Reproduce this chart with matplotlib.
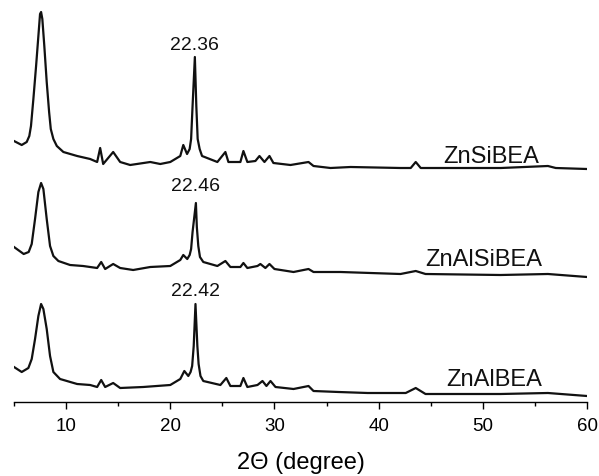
"""XRD patterns of ZnSiBEA, ZnAlSiBEA and ZnAlBEA (stacked)."""
import matplotlib
matplotlib.use("Agg")
import matplotlib.pyplot as plt
from matplotlib.ticker import MultipleLocator

plt.rcParams["font.family"] = ["Liberation Sans", "DejaVu Sans"]

# digitised patterns: 2theta (deg) and intensity (a.u., above each trace's own baseline)
zn_si_2t = [5.0, 5.74, 6.22, 6.47, 6.63, 6.86, 7.12, 7.34, 7.50, 7.60, 7.72, 7.91,
            8.14, 8.37, 8.53, 8.78, 9.11, 9.74, 11.06, 12.31, 12.98, 13.27, 13.56,
            14.52, 15.19, 16.15, 18.08, 19.04, 20.0, 20.96, 21.25, 21.61, 21.86, 22.0,
            22.14, 22.36, 22.50, 22.63, 22.82, 23.05, 24.52, 25.29, 25.58, 26.73, 27.02,
            27.40, 28.17, 28.56, 29.04, 29.52, 29.90, 31.54, 33.27, 33.75, 35.38, 37.31,
            42.1, 43.08, 43.56, 44.04, 51.73, 56.25, 57.0, 60.0]
zn_si_int = [28, 24, 27, 33, 43, 70, 103, 133, 155, 157, 150, 123,
             87, 57, 40, 30, 23, 17, 13, 10, 7, 21, 5,
             17, 7, 4, 7, 5, 7, 13, 24, 15, 20, 30,
             63, 112, 63, 30, 20, 13, 7, 17, 7, 7, 18,
             7, 8, 13, 7, 13, 6, 4, 7, 3, 1, 2,
             1, 1, 7, 1, 1, 3, 1, 0]

zn_alsi_2t = [5.0, 5.93, 6.41, 6.70, 7.02, 7.34, 7.60, 7.82, 8.14, 8.46, 8.78, 9.26,
              10.38, 11.63, 12.98, 13.37, 13.75, 14.52, 15.19, 16.44, 18.08, 20.0, 20.96,
              21.25, 21.63, 21.86, 22.0, 22.14, 22.46, 22.55, 22.69, 22.85, 23.17, 24.52,
              25.29, 25.77, 26.73, 27.02, 27.40, 28.37, 28.65, 29.13, 29.52, 30.0, 31.83,
              33.27, 33.75, 36.35, 42.1, 43.56, 44.5, 51.7, 56.25, 60.0]
zn_alsi_int = [30, 23, 25, 33, 58, 85, 94, 88, 58, 31, 21, 16,
               12, 11, 9, 15, 8, 13, 9, 7, 10, 11, 17,
               22, 18, 22, 28, 45, 74, 50, 31, 20, 15, 11,
               16, 10, 10, 14, 9, 11, 13, 9, 13, 8, 5,
               8, 5, 5, 3, 6, 3, 2, 3, 0]

zn_al_2t = [5.0, 5.74, 6.38, 6.70, 7.02, 7.34, 7.60, 7.82, 8.14, 8.46, 8.78, 9.42,
            11.06, 12.31, 12.98, 13.37, 13.75, 14.52, 15.19, 17.40, 20.0, 20.96, 21.35,
            21.73, 21.95, 22.10, 22.25, 22.42, 22.60, 22.72, 22.90, 23.17, 24.81, 25.38,
            25.77, 26.73, 27.02, 27.40, 28.37, 28.85, 29.23, 29.62, 30.10, 31.83, 33.27,
            33.75, 36.15, 38.94, 42.6, 43.56, 44.5, 51.7, 56.25, 60.0]
zn_al_int = [29, 24, 28, 37, 57, 80, 92, 87, 67, 40, 24, 17,
             12, 11, 9, 16, 9, 13, 8, 9, 11, 17, 25,
             20, 24, 30, 50, 92, 50, 32, 20, 15, 11, 18,
             10, 10, 18, 9, 11, 15, 10, 15, 9, 7, 10,
             5, 4, 3, 3, 8, 2, 2, 3, 0]

samples = ["ZnSiBEA", "ZnAlSiBEA", "ZnAlBEA"]
peak_labels = ["22.36", "22.46", "22.42"]

series = [(zn_si_2t, zn_si_int), (zn_alsi_2t, zn_alsi_int), (zn_al_2t, zn_al_int)]
offsets = [233, 125, 6]
name_pos = [(50.8, 246), (50.1, 143), (51.06, 23)]
label_gap = [13, 17, 13]

fig = plt.figure(figsize=(5.99, 4.77), dpi=100)
ax = fig.add_axes([14 / 599, 74 / 477, 573 / 599, 403 / 477])

for (tt, inten), off, name, (nx, ny), plab, gap in zip(series, offsets, samples,
                                                       name_pos, peak_labels, label_gap):
    y = [v + off for v in inten]
    ax.plot(tt, y, color="#111111", lw=1.6, solid_joinstyle="round")
    ax.text(nx, ny, name, fontsize=17, ha="center", va="center", color="#111111")
    # label the strongest reflection near 22.4 deg
    i = max(range(len(tt)), key=lambda k: inten[k] if 20 < tt[k] < 25 else -1)
    ax.text(tt[i], y[i] + gap, plab, fontsize=14, ha="center", va="center",
            color="#111111")

ax.set_xlim(5, 60)
ax.set_ylim(0, 403)
for side in ("left", "right", "top"):
    ax.spines[side].set_visible(False)
ax.spines["bottom"].set_linewidth(1.0)
ax.set_yticks([])
ax.xaxis.set_major_locator(MultipleLocator(10))
ax.xaxis.set_minor_locator(MultipleLocator(5))
ax.tick_params(axis="x", which="major", direction="out", length=5, width=1.0,
               labelsize=13.5, pad=6)
ax.tick_params(axis="x", which="minor", direction="out", length=3, width=1.0)
ax.set_xlabel("2\u0398 (degree)", fontsize=17, labelpad=12)

fig.savefig("out.png", dpi=100)
